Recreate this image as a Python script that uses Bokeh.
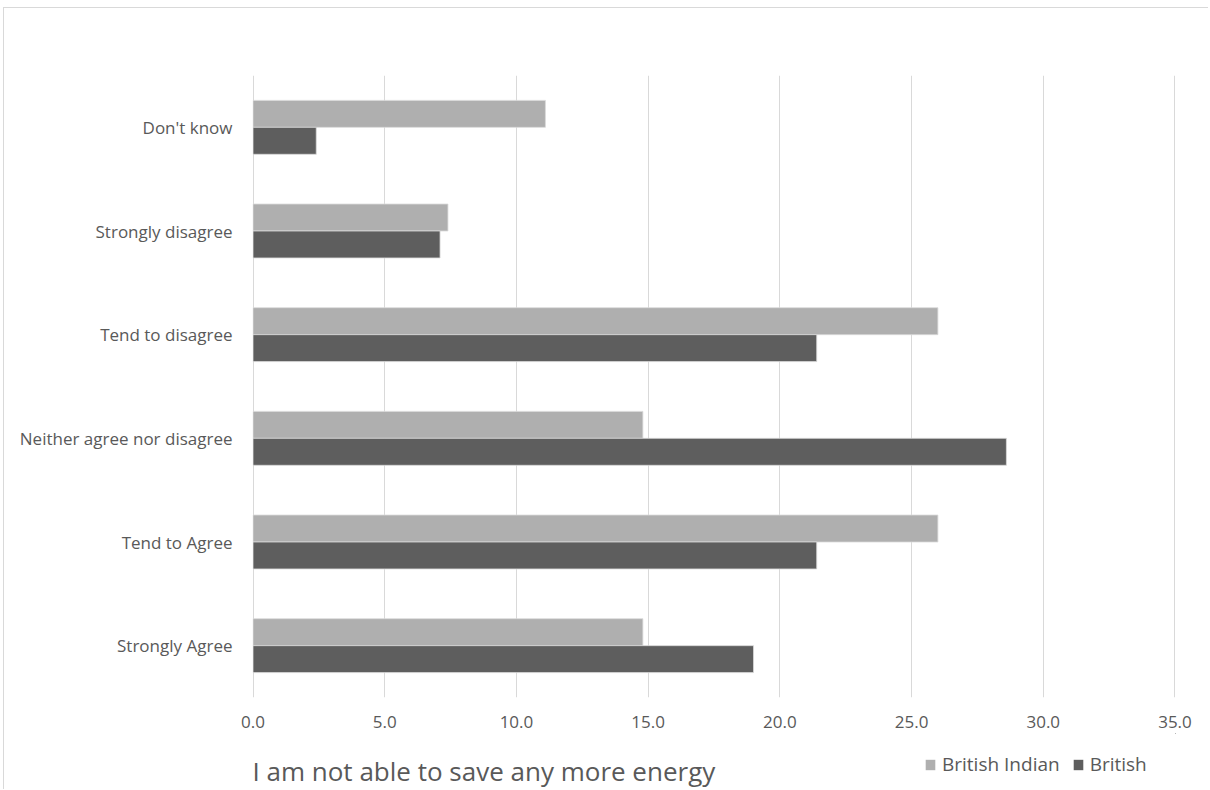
from bokeh.plotting import figure
from bokeh.layouts import column
from bokeh.models import (FactorRange, Range1d, Legend, LegendItem, Label, FixedTicker,
                          ColumnDataSource)
from bokeh.transform import dodge
from bokeh.embed import file_html
from bokeh.resources import INLINE

categories = ["Strongly Agree", "Tend to Agree", "Neither agree nor disagree",
              "Tend to disagree", "Strongly disagree", "Don't know"]
british_indian = [14.8, 26.0, 14.8, 26.0, 7.4, 11.1]
british = [19.0, 21.4, 28.6, 21.4, 7.1, 2.4]
x_ticks = [0, 5, 10, 15, 20, 25, 30, 35]
series_names = ["British Indian", "British"]
series_colors = ["#afafaf", "#5e5e5e"]
title_text = "I am not able to save any more energy"

FONT = "Open Sans"
TXT = "#595959"
W = 1204

src = ColumnDataSource(dict(cat=categories, bi=british_indian, b=british))

# main chart
p = figure(width=W, height=725, output_backend="svg", toolbar_location=None,
           y_range=FactorRange(factors=categories, range_padding=0),
           x_range=Range1d(-0.02, 35.02),
           min_border_left=248, min_border_right=33, min_border_top=67, min_border_bottom=36)

p.hbar(y=dodge("cat", 0.13, range=p.y_range), right="bi", left=0, height=0.26,
       source=src, fill_color=series_colors[0], line_color="#d9d9d9", line_width=0.8)
p.hbar(y=dodge("cat", -0.13, range=p.y_range), right="b", left=0, height=0.26,
       source=src, fill_color=series_colors[1], line_color="#d9d9d9", line_width=0.8)

p.outline_line_color = None
p.ygrid.grid_line_color = None
p.xgrid.grid_line_color = "#d9d9d9"
p.xgrid.grid_line_width = 1
p.xaxis.ticker = FixedTicker(ticks=x_ticks)
p.xaxis.major_label_overrides = {t: f"{t:.1f}" for t in x_ticks}

for ax in (p.xaxis[0], p.yaxis[0]):
    ax.axis_line_color = None
    ax.major_tick_line_color = None
    ax.minor_tick_line_color = None
    ax.major_label_text_font = FONT
    ax.major_label_text_color = TXT
p.xaxis.major_label_text_font_size = "17px"
p.yaxis.major_label_text_font_size = "17px"
p.xaxis.major_label_standoff = 12
p.yaxis.major_label_standoff = 14

# footer strip with chart title and legend (its frame is aligned with the chart's frame);
# its series renderers lie outside its ranges, so only their legend swatches show
q = figure(width=W, height=56, output_backend="svg", toolbar_location=None,
           x_range=Range1d(-2, -1), y_range=FactorRange(factors=categories),
           x_axis_type=None, y_axis_type=None,
           min_border_left=0, min_border_right=0, min_border_top=0, min_border_bottom=0)
q.outline_line_color = None
q.grid.visible = False

lr = [q.hbar(y=dodge("cat", 20, range=q.y_range), right=col, left=0, height=0.26,
             source=src, fill_color=c, line_color=None)
      for col, c in zip(["bi", "b"], series_colors)]

q.add_layout(Label(x=0, y=19, x_units="screen", y_units="screen", text=title_text,
                   text_font=FONT, text_font_size="26px", text_color=TXT,
                   text_baseline="alphabetic", text_align="left"))

legend = Legend(items=[LegendItem(label=n, renderers=[r]) for n, r in zip(series_names, lr)],
                orientation="horizontal", location=(672, 12),
                label_text_font=FONT, label_text_font_size="19px", label_text_color=TXT,
                glyph_width=12, glyph_height=13, spacing=12, label_standoff=6,
                padding=0, margin=0, border_line_color=None, background_fill_alpha=0)
q.add_layout(legend, "center")

layout = column(p, q, spacing=0)
layout.styles = {"margin-left": "3px", "margin-top": "7px",
                 "border-top": "1px solid #d9d9d9", "border-left": "1px solid #d9d9d9"}

open("out.html", "w").write(file_html(layout, INLINE))
